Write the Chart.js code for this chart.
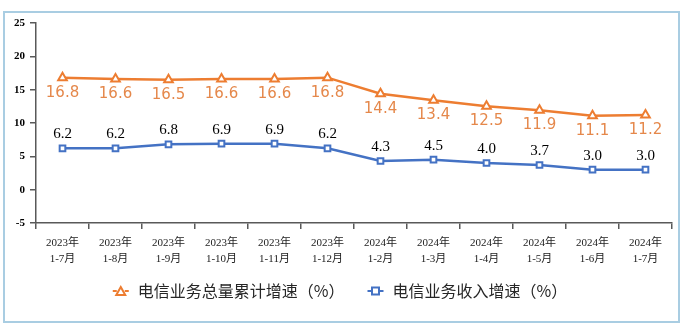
<!DOCTYPE html>
<html>
<head>
<meta charset="utf-8">
<script src="https://cdn.jsdelivr.net/npm/chart.js@4"></script>
<style>
  html, body { margin: 0; padding: 0; background: #fff; }
  #wrap { position: relative; width: 685px; height: 327px; }
  #frame {
    position: absolute; left: 3px; top: 11px; width: 673px; height: 308px;
    border: 2px solid #a9cde2; pointer-events: none;
  }
</style>
</head>
<body>
<div id="wrap">
  <canvas id="telecomChart" width="685" height="327"></canvas>
  <div id="frame"></div>
</div>
<script>
// 月份标签（两行）
const months = [
  ["2023年", "1-7月"], ["2023年", "1-8月"], ["2023年", "1-9月"], ["2023年", "1-10月"],
  ["2023年", "1-11月"], ["2023年", "1-12月"], ["2024年", "1-2月"], ["2024年", "1-3月"],
  ["2024年", "1-4月"], ["2024年", "1-5月"], ["2024年", "1-6月"], ["2024年", "1-7月"]
];
// 电信业务总量累计增速
const totalGrowth = [16.8, 16.6, 16.5, 16.6, 16.6, 16.8, 14.4, 13.4, 12.5, 11.9, 11.1, 11.2];
// 电信业务收入增速
const revenueGrowth = [6.2, 6.2, 6.8, 6.9, 6.9, 6.2, 4.3, 4.5, 4.0, 3.7, 3.0, 3.0];
const yTicks = [-5, 0, 5, 10, 15, 20, 25];

const ORANGE = "#ED7D31";
const BLUE = "#4472C4";

// 图例标记：短线 + 三角/方块
function drawIcon(ctx, x, y, color, shape) {
  ctx.save();
  ctx.strokeStyle = color;
  ctx.lineWidth = 2;
  ctx.beginPath();
  ctx.moveTo(x, y); ctx.lineTo(x + 4, y);
  ctx.moveTo(x + 12, y); ctx.lineTo(x + 16, y);
  ctx.stroke();
  ctx.fillStyle = "#fff";
  ctx.beginPath();
  if (shape === "triangle") {
    ctx.moveTo(x + 8, y - 4); ctx.lineTo(x + 12.5, y + 4); ctx.lineTo(x + 3.5, y + 4); ctx.closePath();
  } else {
    ctx.rect(x + 4.5, y - 3.5, 7, 7);
  }
  ctx.fill(); ctx.stroke();
  ctx.restore();
}

// 底部图例
const bottomLegend = {
  id: "bottomLegend",
  afterDraw(chart) {
    const ctx = chart.ctx;
    const shapes = ["triangle", "rect"];
    ctx.save();
    ctx.font = "16px 'Noto Sans CJK SC'";
    ctx.textBaseline = "middle";
    ctx.textAlign = "left";
    const items = chart.data.datasets.map((ds, i) => ({
      text: ds.label, color: ds.borderColor, shape: shapes[i], w: ctx.measureText(ds.label).width
    }));
    const total = items.reduce((s, it) => s + 16 + 9 + it.w, 0) + 23 * (items.length - 1);
    let x = 340 - total / 2;
    const y = 291;
    items.forEach(it => {
      drawIcon(ctx, x, y, it.color, it.shape);
      ctx.fillStyle = "#262626";
      ctx.fillText(it.text, x + 25, y);
      x += 25 + it.w + 23;
    });
    ctx.restore();
  }
};

// 数据标签
const valueLabels = {
  id: "valueLabels",
  afterDatasetsDraw(chart) {
    const ctx = chart.ctx;
    ctx.save();
    ctx.textAlign = "center";
    ctx.textBaseline = "middle";
    chart.data.datasets.forEach((ds, i) => {
      const meta = chart.getDatasetMeta(i);
      meta.data.forEach((pt, j) => {
        const txt = ds.data[j].toFixed(1);
        if (i === 0) {
          ctx.font = "15px 'DejaVu Sans'";
          ctx.fillStyle = "#E5884B";
          ctx.fillText(txt, pt.x, pt.y + 15);
        } else {
          ctx.font = "15px 'Liberation Serif'";
          ctx.fillStyle = "#000";
          ctx.fillText(txt, pt.x, pt.y - 14);
        }
      });
    });
    ctx.restore();
  }
};

new Chart(document.getElementById("telecomChart"), {
  type: "line",
  data: {
    labels: months,
    datasets: [
      {
        label: "电信业务总量累计增速（%）",
        data: totalGrowth,
        borderColor: ORANGE,
        borderWidth: 2.5,
        pointStyle: "triangle",
        pointRadius: 5,
        pointBorderWidth: 2,
        pointBackgroundColor: "#fff",
        pointBorderColor: ORANGE,
        tension: 0
      },
      {
        label: "电信业务收入增速（%）",
        data: revenueGrowth,
        borderColor: BLUE,
        borderWidth: 2.5,
        pointStyle: "rect",
        pointRadius: 4,
        pointBorderWidth: 2,
        pointBackgroundColor: "#fff",
        pointBorderColor: BLUE,
        tension: 0
      }
    ]
  },
  options: {
    responsive: false,
    animation: false,
    layout: { padding: { top: 23, right: 13, left: 0, bottom: 54 } },
    scales: {
      x: {
        offset: true,
        grid: { display: true, drawOnChartArea: false, offset: true, tickLength: 6, color: "#595959", lineWidth: 1.5 },
        border: { color: "#595959", width: 1.5 },
        ticks: {
          color: "#222",
          font: { family: "'Liberation Serif', 'Noto Sans CJK SC'", size: 11, lineHeight: 1.45 },
          padding: 6,
          maxRotation: 0,
          autoSkip: false
        },
        afterFit(s) { s.height = 50; }
      },
      y: {
        min: -5,
        max: 25,
        afterBuildTicks(s) { s.ticks = yTicks.map(v => ({ value: v })); },
        grid: { display: true, drawOnChartArea: false, tickLength: 6, color: "#595959", lineWidth: 1.5 },
        border: { color: "#595959", width: 1.5 },
        ticks: {
          color: "#000",
          font: { family: "'Liberation Serif'", size: 11, weight: "bold" },
          padding: 5
        },
        afterFit(s) { s.width = 36; }
      }
    },
    plugins: {
      tooltip: { enabled: false },
      legend: { display: false }
    }
  },
  plugins: [valueLabels, bottomLegend]
});
</script>
</body>
</html>
